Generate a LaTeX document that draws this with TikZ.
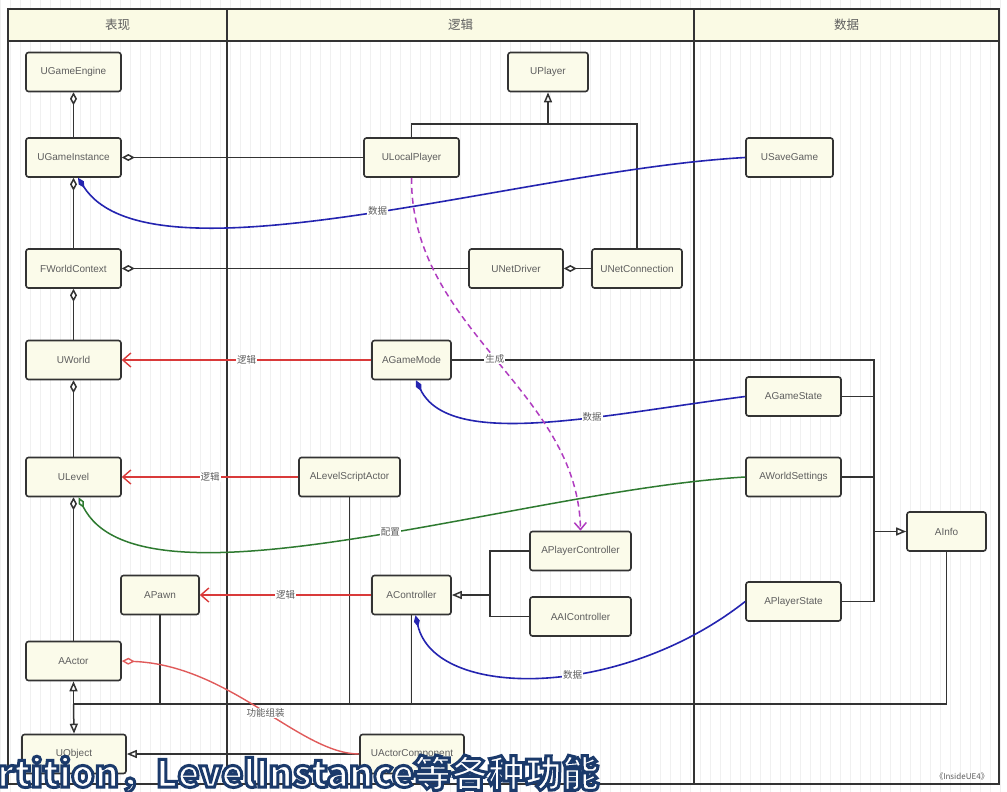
\documentclass[tikz,border=0pt]{standalone}
\usepackage{fontspec}
\setmainfont{Liberation Sans}
\newfontfamily\cjk{Noto Sans CJK SC}
\usetikzlibrary{arrows.meta}
\definecolor{hdr}{HTML}{FAFAE4}
\definecolor{nodefill}{HTML}{FBFBEA}
\definecolor{lc}{HTML}{333333}
\definecolor{txt}{HTML}{5E5E5E}
\definecolor{redl}{HTML}{D93A3A}
\definecolor{redc}{HTML}{E05A5A}
\definecolor{bluel}{HTML}{2424B0}
\definecolor{greenl}{HTML}{2E7A30}
\definecolor{purpl}{HTML}{B03CC0}
\definecolor{gridc}{HTML}{F0F0F0}
\tikzset{
  cls/.style={draw=lc, line width=1.6pt, fill=nodefill, rounded corners=2.5pt,
    minimum height=39pt, inner sep=0pt, font=\fontsize{10}{12}\selectfont, text=txt},
  ln/.style={draw=lc, line width=1.5pt},
  agg/.style={ln, {Diamond[open,fill=white,length=13pt,width=7pt]}-},
  inh/.style={ln, -{Triangle[open,fill=white,length=10pt,width=8pt]}},
  logic/.style={draw=redl, line width=1.4pt, -{Straight Barb[length=8pt,width=14pt]}},
  data/.style={draw=bluel, line width=1.6pt, {Diamond[length=12pt,width=6pt]}-},
  config/.style={draw=greenl, line width=1.5pt, {Diamond[open,fill=white,length=12pt,width=6pt]}-},
  spawn/.style={draw=purpl, line width=1.5pt, dash pattern=on 6pt off 4pt, -{Straight Barb[length=7pt,width=12pt]}},
  comp/.style={draw=redc, line width=1.4pt, {Diamond[open,fill=white,length=13pt,width=7pt]}-},
  lbl/.style={fill=white, inner sep=1pt, font=\cjk\fontsize{9.5}{10}\selectfont, text=txt},
  hd/.style={font=\cjk\fontsize{12.5}{13}\selectfont, text=txt}
}
\begin{document}
\begin{tikzpicture}[x=1pt,y=-1pt]
\useasboundingbox (0,0) rectangle (1007,792);
\fill[white] (0,0) rectangle (1007,792);
\draw[gridc, line width=0.6pt, step=10] (0,0) grid (1007,792);
% swimlanes
\fill[hdr] (8,9) rectangle (999,41);
\draw[lc, line width=1.7pt] (8,9) rectangle (999,784);
\draw[lc, line width=1.7pt] (8,41) -- (999,41);
\draw[lc, line width=1.7pt] (227,9) -- (227,784);
\draw[lc, line width=1.7pt] (694,9) -- (694,784);
\node[hd] (h1) at (117.5,25) {表现};
\node[hd] (h2) at (460.5,25) {逻辑};
\node[hd] (h3) at (846.5,25) {数据};
% nodes
\node[cls, minimum width=95pt] (ge) at (73.5,72) {UGameEngine};
\node[cls, minimum width=95pt] (gi) at (73.5,157.5) {UGameInstance};
\node[cls, minimum width=95pt] (wc) at (73.5,268.5) {FWorldContext};
\node[cls, minimum width=95pt] (uw) at (73.5,360) {UWorld};
\node[cls, minimum width=95pt] (lv) at (73.5,477) {ULevel};
\node[cls, minimum width=95pt] (aa) at (73.5,661) {AActor};
\node[cls, minimum width=104pt] (uo) at (74,754) {UObject};
\node[cls, minimum width=78pt] (pw) at (160,595) {APawn};
\node[cls, minimum width=80pt] (up) at (548,72) {UPlayer};
\node[cls, minimum width=95pt] (lp) at (411.5,157.5) {ULocalPlayer};
\node[cls, minimum width=94pt] (nd) at (516,268.5) {UNetDriver};
\node[cls, minimum width=90pt] (nc) at (637,268.5) {UNetConnection};
\node[cls, minimum width=87pt] (sg) at (789.5,157.5) {USaveGame};
\node[cls, minimum width=79pt] (gm) at (411.5,360) {AGameMode};
\node[cls, minimum width=101pt] (lsa) at (349.5,477) {ALevelScriptActor};
\node[cls, minimum width=95pt] (gs) at (793.5,396.5) {AGameState};
\node[cls, minimum width=95pt] (ws) at (793.5,477) {AWorldSettings};
\node[cls, minimum width=79pt] (ai) at (946.5,531.5) {AInfo};
\node[cls, minimum width=101pt] (pc) at (580.5,551) {APlayerController};
\node[cls, minimum width=79pt] (ac) at (411.5,595) {AController};
\node[cls, minimum width=101pt] (aic) at (580.5,616.5) {AAIController};
\node[cls, minimum width=95pt] (ps) at (793.5,601.5) {APlayerState};
\node[cls, minimum width=104pt] (uac) at (412,754) {UActorComponent};
% aggregation
\draw[agg] (ge.south) -- (gi.north);
\draw[agg] (gi.east) -- (lp.west);
\draw[agg] (gi.south) -- (wc.north);
\draw[agg] (wc.east) -- (nd.west);
\draw[agg] (nd.east) -- (nc.west);
\draw[agg] (wc.south) -- (uw.north);
\draw[agg] (uw.south) -- (lv.north);
\draw[agg] (lv.south) -- (aa.north);
% UPlayer inheritance
\coordinate (pb) at (548,124);
\draw[ln] (lp.north) -- (lp.north |- pb) -- (nc.north |- pb) -- (nc.north);
\draw[inh] (pb) -- (up.south);
% AInfo inheritance
\coordinate (ix) at (874,360);
\draw[ln] (gm.east) -- (ix) -- (ix |- ps.east) -- (ps.east);
\draw[ln] (gs.east) -- (ix |- gs.east);
\draw[ln] (ws.east) -- (ix |- ws.east);
\draw[inh] (ix |- ai.west) -- (ai.west);
% AController inheritance
\coordinate (cx) at (490,595);
\draw[ln] (pc.west) -- (cx |- pc.west) -- (cx |- aic.west) -- (aic.west);
\draw[inh] (cx) -- (ac.east);
% AActor bus
\coordinate (bl) at (73.5,704);
\draw[ln] (ai.south) -- (ai.south |- bl) -- (bl);
\draw[ln] (pw.south) -- (pw.south |- bl);
\draw[ln] (lsa.south) -- (lsa.south |- bl);
\draw[ln] (ac.south) -- (ac.south |- bl);
\draw[inh] (bl) -- (aa.south);
\draw[inh] (bl) -- (uo.north);
\draw[inh] (uac.west) -- (uo.east);
% logic arrows
\draw[logic] (gm.west) -- node[lbl]{逻辑} (uw.east);
\draw[logic] (lsa.west) -- node[lbl]{逻辑} (lv.east);
\draw[logic] (ac.west) -- node[lbl]{逻辑} (pw.east);
% data curves
\draw[data] ([xshift=4.5pt]gi.south) .. controls (150,290) and (520,170) .. (sg.west) node[lbl,pos=0.53]{数据};
\draw[data] ([xshift=4.5pt]gm.south) .. controls (450,450) and (600,415) .. (gs.west) node[lbl,pos=0.64]{数据};
\draw[data] ([xshift=4pt]ac.south) .. controls (435,700) and (620,700) .. (ps.west) node[lbl,pos=0.58]{数据};
% config
\draw[config] ([xshift=5pt]lv.south) .. controls (140,620) and (520,490) .. (ws.west) node[lbl,pos=0.55]{配置};
% spawn
\draw[spawn] (lp.south) .. controls (411,330) and (578,390) .. (pc.north) node[lbl,pos=0.5]{生成};
% component
\draw[comp] (aa.east) .. controls (230,665) and (300,754) .. (uac.west) node[lbl,pos=0.53]{功能组装};
% watermark
\node[font=\cjk\fontsize{8}{9}\selectfont, text=txt] (wm) at (962,776) {《InsideUE4》};
% subtitle overlay
\node[anchor=base west, inner sep=0pt, font=\cjk\bfseries\fontsize{37}{37}\selectfont] (sub) at (-3,787)
  {\color{white}\special{pdf:literal direct 2 Tr 3 w 0.106 0.227 0.42 RG}rtition，LevelInstance等各种功能\special{pdf:literal direct 0 Tr}};
\end{tikzpicture}
\end{document}
